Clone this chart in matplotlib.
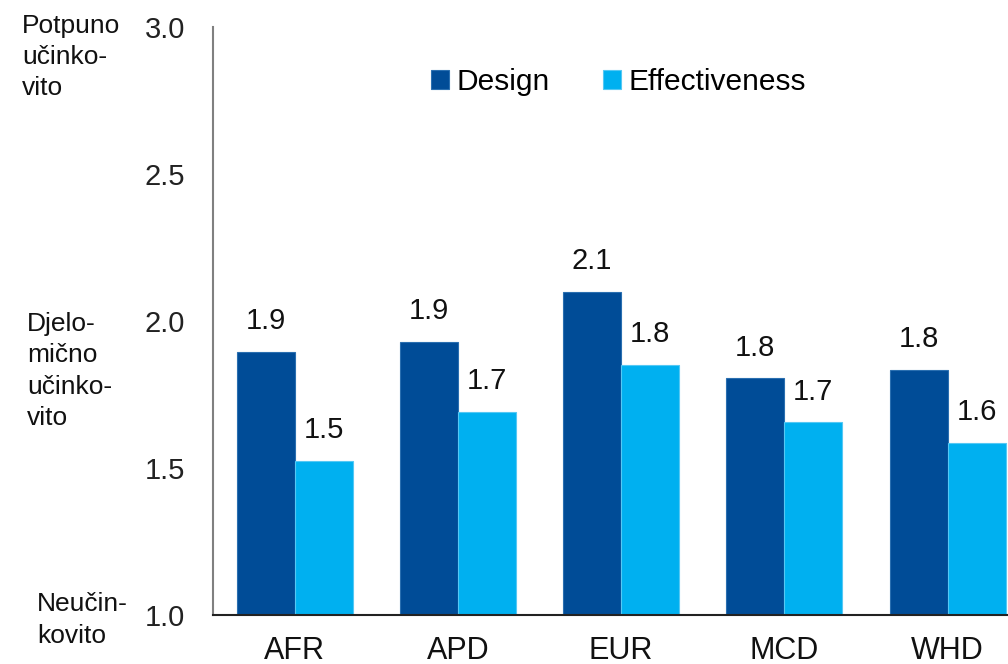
import matplotlib.pyplot as plt
import numpy as np

regions = ["AFR", "APD", "EUR", "MCD", "WHD"]
design = [1.895, 1.93, 2.10, 1.805, 1.835]
effectiveness = [1.525, 1.69, 1.85, 1.655, 1.585]
design_labels = ["1.9", "1.9", "2.1", "1.8", "1.8"]
effect_labels = ["1.5", "1.7", "1.8", "1.7", "1.6"]
yticks = [1.0, 1.5, 2.0, 2.5, 3.0]

plt.rcParams["font.family"] = ["Liberation Sans", "DejaVu Sans"]

fig = plt.figure(figsize=(10.08, 6.64), dpi=100)
ax = fig.add_axes([0.2113, 0.0738, 0.80, 0.8855])

x = np.arange(len(regions))
w = 0.355
b1 = ax.bar(x - w / 2, design, w, color="#004C97", edgecolor="#2a6fb0",
            linewidth=0.8, label="Design")
b2 = ax.bar(x + w / 2, effectiveness, w, color="#00B0F0", edgecolor="#55c8f4",
            linewidth=0.8, label="Effectiveness")

for bars, labels in [(b1, design_labels), (b2, effect_labels)]:
    for rect, lab in zip(bars, labels):
        ax.annotate(lab, (rect.get_x() + rect.get_width() / 2, rect.get_height()),
                    xytext=(0, 12), textcoords="offset points", ha="center",
                    va="bottom", fontsize=21, color="#111111")

ax.set_ylim(1.0, 3.0)
ax.set_xlim(-0.5, 4.44)
ax.set_yticks(yticks)
ax.set_yticklabels([f"{t:.1f}" for t in yticks], fontsize=21, color="#222222")
ax.set_xticks(x)
ax.set_xticklabels(regions, fontsize=22, color="#111111")
ax.tick_params(axis="y", length=0, pad=20)
ax.tick_params(axis="x", length=0, pad=15)

for s in ["top", "right"]:
    ax.spines[s].set_visible(False)
ax.spines["left"].set_color("#808080")
ax.spines["left"].set_linewidth(1.5)
ax.spines["bottom"].set_color("#222222")
ax.spines["bottom"].set_linewidth(1.5)

ax.legend(loc="center", bbox_to_anchor=(0.503, 0.906), ncol=2, frameon=False,
          fontsize=21.5, handlelength=0.6, handleheight=0.6, handletextpad=0.25,
          columnspacing=1.8)

side_kw = dict(fontsize=19, ha="left", va="center", linespacing=1.37, color="#111111")
fig.text(22 / 1008, 1 - 57 / 664, "Potpuno\nučinko-\nvito", **side_kw)
fig.text(27 / 1008, 1 - 371 / 664, "Djelo-\nmično\nučinko-\nvito", **side_kw)
fig.text(37 / 1008, 1 - 620 / 664, "Neučin-\nkovito", **side_kw)

fig.savefig("out.png", dpi=100)
